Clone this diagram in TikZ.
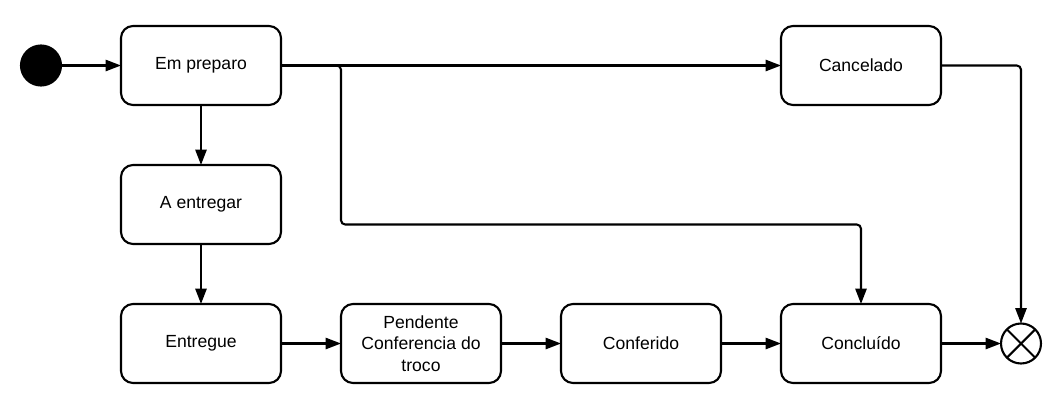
\documentclass[tikz,border=0pt]{standalone}
\usepackage{fontspec}
\setmainfont{Liberation Sans}
\usetikzlibrary{arrows.meta,positioning}

\begin{document}
\begin{tikzpicture}[->, >={Triangle[length=11pt,width=8pt]}, line width=1.5pt, node distance=1.5cm,
  state/.style={draw, rounded corners=0.3cm, outer sep=0pt, minimum width=4cm, minimum height=1.975cm, align=center, font=\fontsize{12.5pt}{15.3pt}\selectfont},
  startstate/.style={circle, fill=black, draw, outer sep=0pt, minimum size=1cm, inner sep=0pt},
  endstate/.style={circle, draw, outer sep=0pt, minimum size=1cm, inner sep=0pt}]
\useasboundingbox (0,0) rectangle (26.5,-10.3);
\node[state] (s0) at (5.025,-1.6375) {Em preparo};
\node[startstate] (ini) [left=of s0] {};
\node[state] (s1) [below=of s0] {A entregar};
\node[state] (s2) [below=of s1] {Entregue};
\node[state] (s3) [right=of s2] {Pendente\\Conferencia do\\troco};
\node[state] (s4) [right=of s3] {Conferido};
\node[state] (s5) [right=of s4] {Concluído};
\node[state] (s6) [right=12.5cm of s0] {Cancelado};
\node[endstate] (fim) [right=of s5] {};
\draw[-] (fim.north east) -- (fim.south west);
\draw[-] (fim.north west) -- (fim.south east);

\draw (ini) -- (s0);
\draw (s0) -- (s1);
\draw (s1) -- (s2);
\draw (s2) -- (s3);
\draw (s3) -- (s4);
\draw (s4) -- (s5);
\draw (s5) -- (fim);
\draw (s0) -- (s6);
\draw[rounded corners=3pt] (s0.east) -| ([yshift=-0.5cm]s1.east -| s3.west) -| (s5.north);
\draw[rounded corners=3pt] (s6.east) -| (fim.north);
\end{tikzpicture}
\end{document}
